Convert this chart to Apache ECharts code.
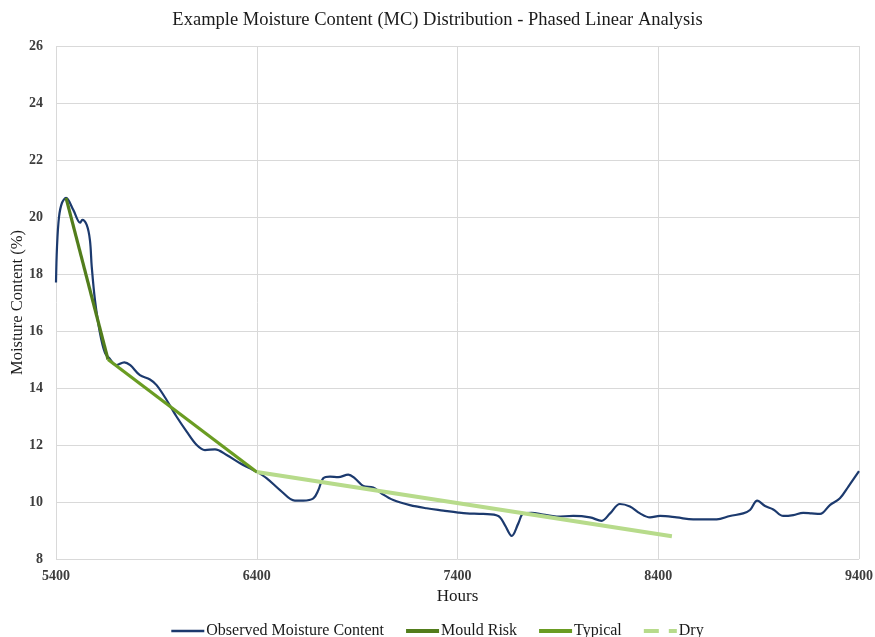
<!DOCTYPE html>
<html>
<head>
<meta charset="utf-8">
<script src="https://cdn.jsdelivr.net/npm/echarts@6/dist/echarts.min.js"></script>
<style>
  html, body { margin: 0; padding: 0; background: #fff; }
  #chart { width: 875px; height: 637px; }
</style>
</head>
<body>
<div id="chart"></div>
<script>
// Observed moisture content readings (hours, % MC)
const obsHours = [5400, 5405, 5415, 5430, 5450, 5486, 5520, 5531, 5553, 5569, 5578, 5594, 5619, 5644, 5665,
  5700, 5740, 5770, 5818, 5868, 5901, 5951, 6001, 6051, 6101, 6142, 6192, 6250, 6317, 6366, 6400,
  6450, 6516, 6590, 6632, 6682, 6707, 6731, 6765, 6806, 6856, 6889, 6931, 6980, 7022, 7080, 7163,
  7246, 7329, 7404, 7446, 7528, 7603, 7636, 7670, 7703, 7728, 7769, 7827, 7894, 7977, 8060, 8118,
  8160, 8209, 8259, 8309, 8359, 8409, 8492, 8574, 8691, 8757, 8823, 8857, 8893, 8932, 8973, 9023,
  9073, 9122, 9164, 9206, 9255, 9305, 9347, 9400];
const obsMC = [17.7, 18.95, 20.0, 20.5, 20.67, 20.25, 19.8, 19.9, 19.72, 19.19, 18.26, 17.09, 15.93, 15.23, 15.05,
  14.8, 14.9, 14.8, 14.45, 14.3, 14.1, 13.58, 12.99, 12.47, 12.0, 11.82, 11.85, 11.65, 11.36, 11.18, 11.06,
  10.83, 10.42, 10.05, 10.05, 10.13, 10.42, 10.83, 10.89, 10.87, 10.96, 10.83, 10.56, 10.51, 10.3, 10.07, 9.89,
  9.78, 9.70, 9.63, 9.60, 9.58, 9.51, 9.19, 8.81, 9.25, 9.6, 9.62, 9.56, 9.49, 9.51, 9.46, 9.34,
  9.60, 9.93, 9.84, 9.6, 9.46, 9.51, 9.46, 9.39, 9.39, 9.51, 9.60, 9.72, 10.05, 9.86, 9.74, 9.51,
  9.54, 9.62, 9.60, 9.58, 9.89, 10.13, 10.54, 11.08];

// Phased linear fits: [start hour, end hour] and [start MC, end MC]
const mouldHours = [5450, 5659];
const mouldMC = [20.67, 15.0];
const typicalHours = [5659, 6400];
const typicalMC = [15.0, 11.05];
const dryHours = [6400, 8468];
const dryMC = [11.05, 8.8];

// Axis ticks
const xTicks = { min: 5400, max: 9400, interval: 1000 };
const yTicks = { min: 8, max: 26, interval: 2 };

const pairs = (xs, ys) => xs.map((x, i) => [x, ys[i]]);

const serif = '"Liberation Serif", "DejaVu Serif", serif';
const gridColor = '#d9d9d9';
const tickText = { fontFamily: serif, fontSize: 14, fontWeight: 'bold', color: '#3d3d3d' };

const chart = echarts.init(document.getElementById('chart'), null, { renderer: 'canvas' });
chart.setOption({
  animation: false,
  backgroundColor: '#ffffff',
  title: {
    text: 'Example Moisture Content (MC) Distribution - Phased Linear Analysis',
    left: 'center',
    top: 6,
    textStyle: { fontFamily: serif, fontSize: 18.5, fontWeight: 'normal', color: '#1a1a1a' }
  },
  legend: {
    bottom: -7,
    left: 'center',
    itemWidth: 33,
    itemHeight: 4,
    itemGap: 22,
    textStyle: { fontFamily: serif, fontSize: 16, color: '#1a1a1a', padding: [0, 0, 0, -3] },
    data: [
      { name: 'Observed Moisture Content', icon: 'path://M0,0H33V2.4H0Z' },
      { name: 'Mould Risk', icon: 'path://M0,0H33V4H0Z' },
      { name: 'Typical', icon: 'path://M0,0H33V4H0Z' },
      { name: 'Dry', icon: 'path://M0,0H15V4H0Z M25,0H33V4H25Z' }
    ]
  },
  grid: { left: 56, right: 16, top: 46, bottom: 78, outerBoundsMode: 'none', containLabel: false },
  xAxis: {
    type: 'value',
    min: xTicks.min,
    max: xTicks.max,
    interval: xTicks.interval,
    name: 'Hours',
    nameLocation: 'middle',
    nameGap: 28,
    nameTextStyle: { fontFamily: serif, fontSize: 17, color: '#1a1a1a' },
    axisLine: { show: false },
    axisTick: { show: false },
    axisLabel: Object.assign({ margin: 10, formatter: (v) => String(v) }, tickText),
    splitLine: { show: true, lineStyle: { color: gridColor, width: 1 } }
  },
  yAxis: {
    type: 'value',
    min: yTicks.min,
    max: yTicks.max,
    interval: yTicks.interval,
    name: 'Moisture Content (%)',
    nameLocation: 'middle',
    nameGap: 30,
    nameMoveOverlap: false,
    nameTextStyle: { fontFamily: serif, fontSize: 16.5, color: '#1a1a1a' },
    axisLine: { show: false },
    axisTick: { show: false },
    axisLabel: Object.assign({ margin: 13 }, tickText),
    splitLine: { show: true, lineStyle: { color: gridColor, width: 1 } }
  },
  series: [
    {
      name: 'Observed Moisture Content',
      type: 'line',
      data: pairs(obsHours, obsMC),
      smooth: 0.35,
      showSymbol: false,
      symbol: 'none',
      lineStyle: { color: '#1c3a6e', width: 2.2 },
      itemStyle: { color: '#1c3a6e' },
      z: 2
    },
    {
      name: 'Mould Risk',
      type: 'line',
      data: pairs(mouldHours, mouldMC),
      showSymbol: false,
      symbol: 'none',
      lineStyle: { color: '#527d1c', width: 3.2 },
      itemStyle: { color: '#527d1c' },
      z: 3
    },
    {
      name: 'Typical',
      type: 'line',
      data: pairs(typicalHours, typicalMC),
      showSymbol: false,
      symbol: 'none',
      lineStyle: { color: '#6a9c22', width: 3.2 },
      itemStyle: { color: '#6a9c22' },
      z: 3
    },
    {
      name: 'Dry',
      type: 'line',
      data: pairs(dryHours, dryMC),
      showSymbol: false,
      symbol: 'none',
      lineStyle: { color: '#b7db8b', width: 4 },
      itemStyle: { color: '#b7db8b' },
      z: 3
    }
  ]
});
</script>
</body>
</html>
